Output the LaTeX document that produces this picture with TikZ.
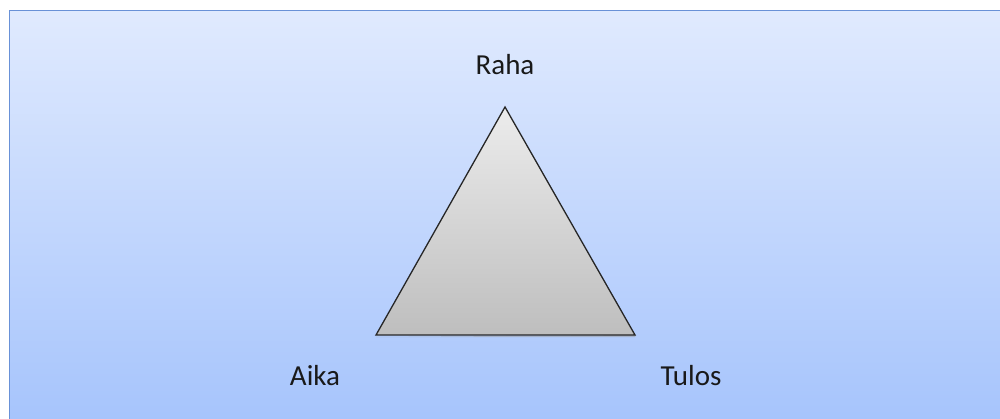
\documentclass[tikz,border=0pt]{standalone}
\usepackage{fontspec}
\setmainfont{Carlito}
\definecolor{bgtop}{RGB}{224,234,254}
\definecolor{bgbot}{RGB}{166,196,252}
\definecolor{frame}{RGB}{105,145,215}
\definecolor{tritop}{RGB}{236,236,236}
\definecolor{tribot}{RGB}{190,190,190}
\tikzset{
  lbl/.style={font=\fontsize{29}{33}\selectfont, text=black!90, inner sep=0pt},
  tri/.style={draw=black!85, line width=1.3pt, line join=miter, top color=tritop, bottom color=tribot},
}
\begin{document}
\begin{tikzpicture}[x=1pt,y=-1pt]
\useasboundingbox (0,0) rectangle (1000,419);
\draw[frame, line width=1.6pt, top color=bgtop, bottom color=bgbot] (9.5,10.5) rectangle (1020,422);
\coordinate (apex) at (505,107);
\coordinate (bl) at (376,335);
\coordinate (br) at (635,335);
\fill[black!40, opacity=0.5] ([yshift=-2pt]bl) -- ([yshift=-2pt]br) -- ([xshift=1pt]br) -- cycle;
\draw[tri] (apex) -- (br) -- (bl) -- cycle;
\node[lbl] (raha) at (505,65) {Raha};
\node[lbl] (aika) at (315,376) {Aika};
\node[lbl] (tulos) at (691,376) {Tulos};
\end{tikzpicture}
\end{document}
